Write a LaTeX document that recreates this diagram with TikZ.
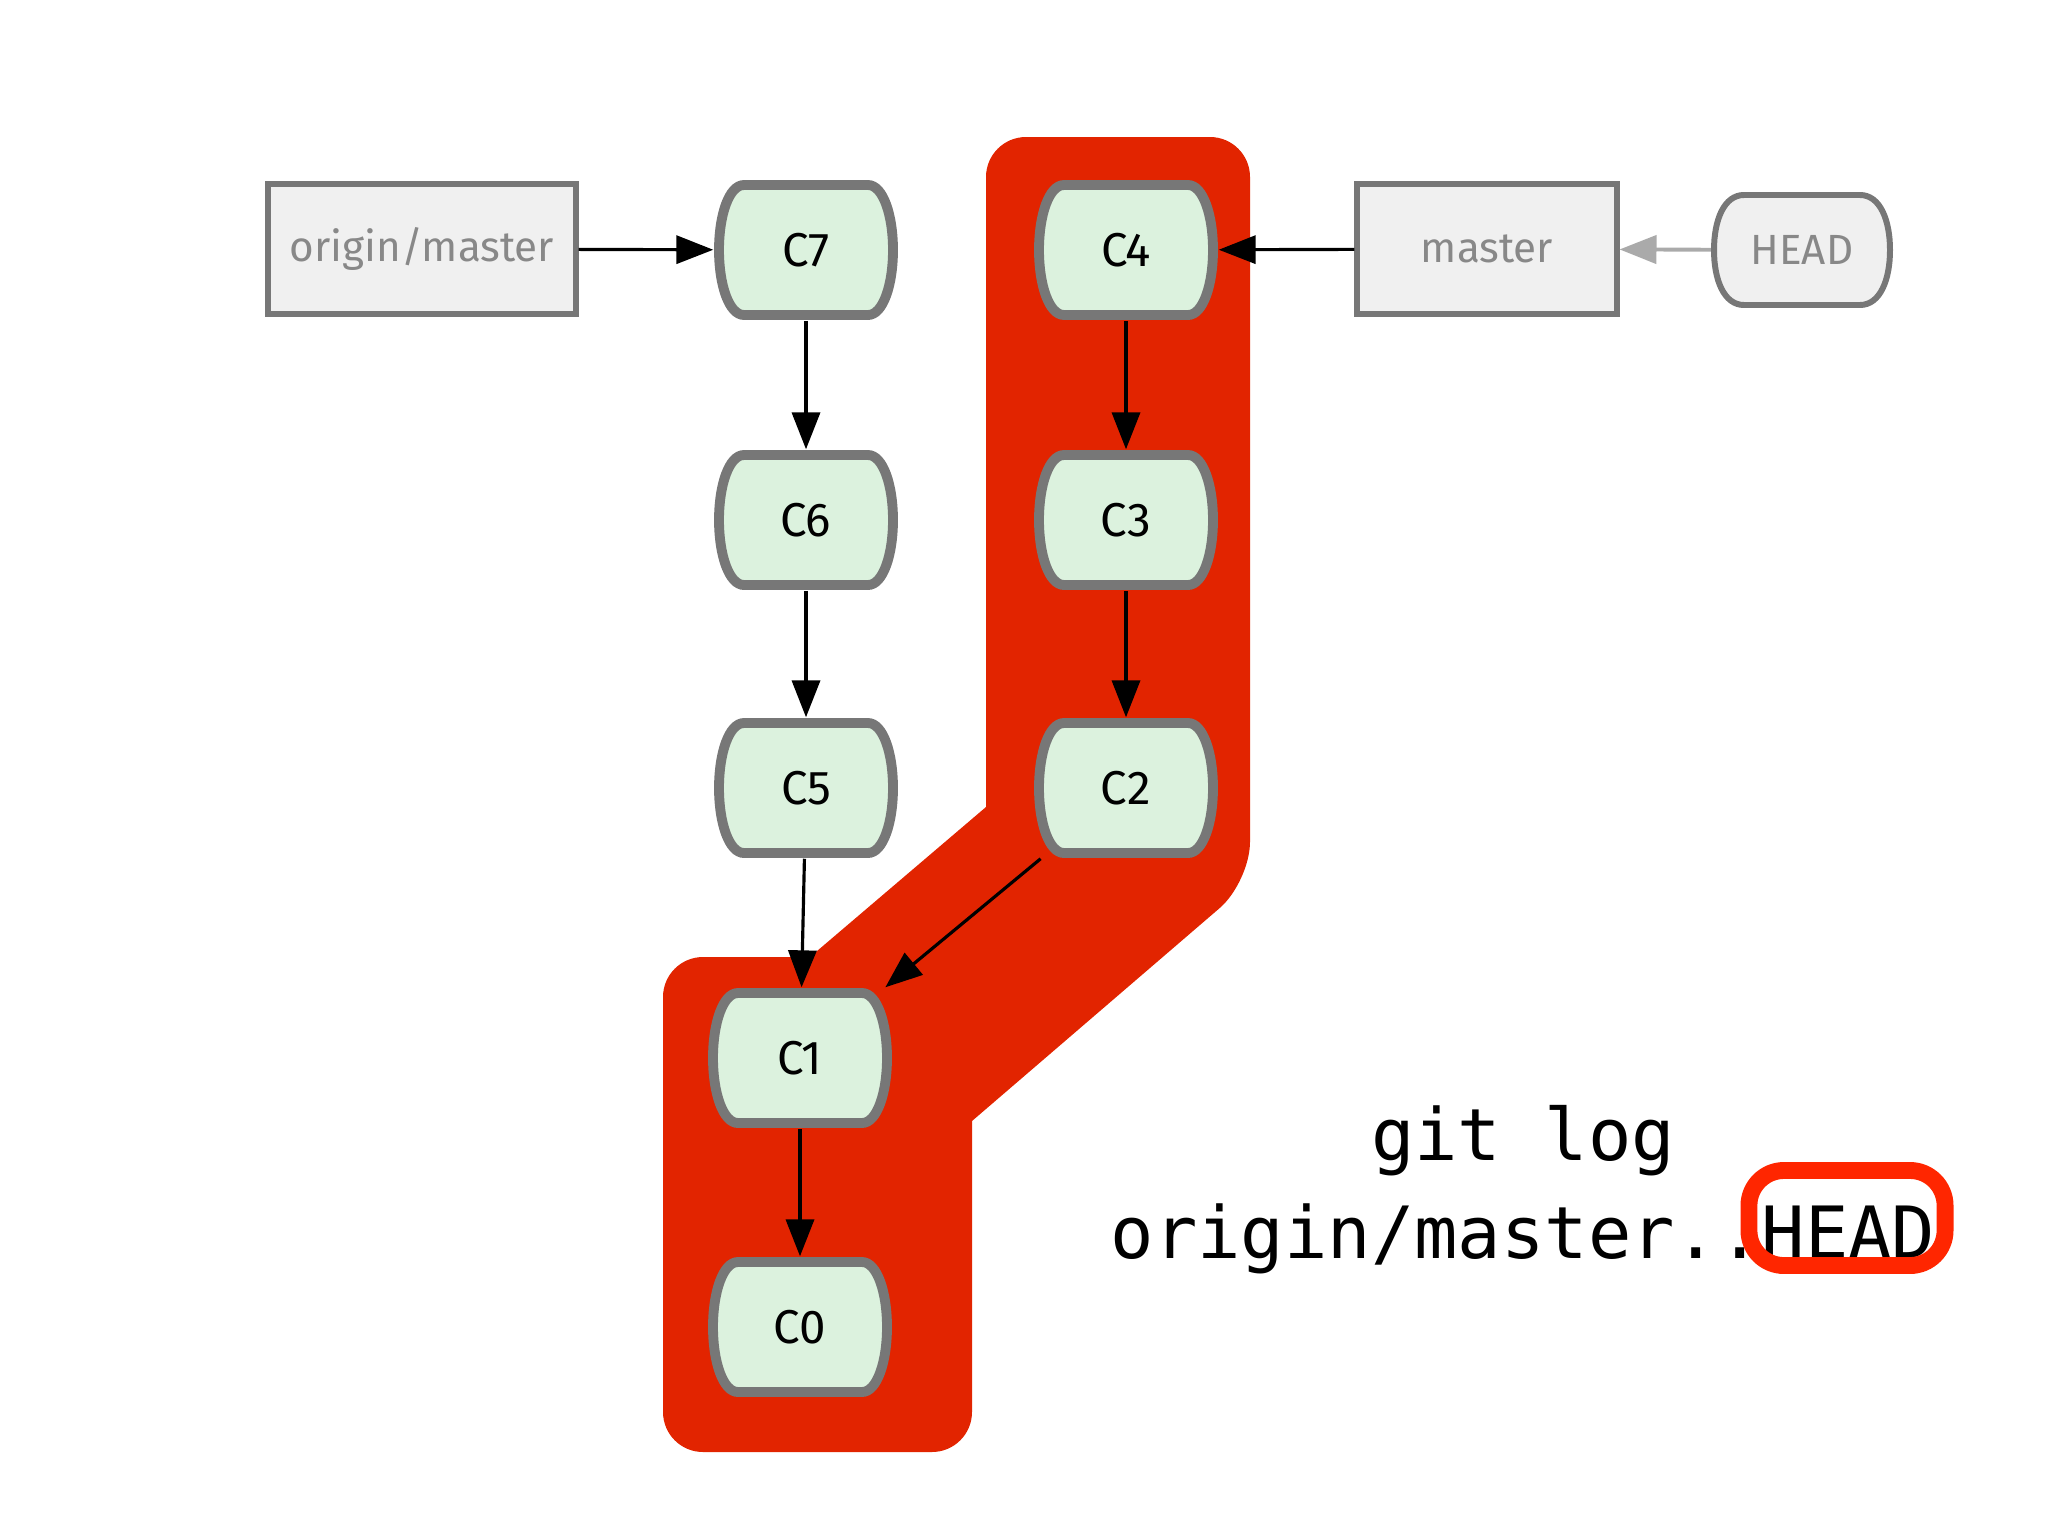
\documentclass[tikz,border=0pt]{standalone}
\usepackage{fontspec}
\setmainfont{Fira Sans}
\newfontfamily\cmdfont{DejaVu Sans Mono}
\usetikzlibrary{arrows.meta}
\definecolor{hlred}{RGB}{226,36,0}
\definecolor{markred}{RGB}{255,38,0}
\definecolor{commitfill}{RGB}{220,242,222}
\definecolor{rimgray}{RGB}{119,119,119}
\definecolor{reffill}{RGB}{240,240,240}
\definecolor{labelgray}{RGB}{136,136,136}
\definecolor{headgray}{RGB}{170,170,170}
\tikzset{
  commit/.style={minimum width=1.84cm, minimum height=1.40cm, inner sep=0pt,
    font=\fontsize{13.5}{15}\selectfont},
  commitline/.style={draw=rimgray, fill=commitfill, line width=2.8pt},
  refbox/.style={draw=rimgray, fill=reffill, line width=1.7pt, inner sep=0pt,
    minimum height=1.30cm, text=labelgray, font=\fontsize{12}{14}\selectfont},
  headline/.style={draw=rimgray, fill=reffill, line width=1.7pt},
  parent/.style={-{Triangle[length=10.5pt,width=8pt]}, line width=0.9pt},
}
\begin{document}
\begin{tikzpicture}[x=0.01cm,y=-0.01cm]
  \useasboundingbox (0,0) rectangle (2048,1536);

  % commits between origin/master and HEAD
  \fill[hlred, rounded corners=0.4cm] (986,137) -- (1250,137) -- (1250,882)
    [sharp corners] -- (972,1121) [rounded corners=0.4cm] -- (972,1452) -- (663,1452)
    -- (663,957) [sharp corners] -- (810,957) -- (986,807) [rounded corners=0.4cm] -- cycle;

  % commits
  \foreach \name/\lbl/\x/\y in {c7/C7/806/250, c6/C6/806/520, c5/C5/806/788,
      c1/C1/800/1058, c0/C0/800/1327, c4/C4/1126/250, c3/C3/1126/520, c2/C2/1126/788}{
    \begin{scope}[shift={(\x,\y)}]
      \draw[commitline] (-62,-65) -- (62,-65) .. controls (77,-65) and (87,-35) .. (87,0)
        .. controls (87,35) and (77,65) .. (62,65) -- (-62,65)
        .. controls (-77,65) and (-87,35) .. (-87,0)
        .. controls (-87,-35) and (-77,-65) .. (-62,-65) -- cycle;
    \end{scope}
    \node[commit] (\name) at (\x,\y) {\lbl};
  }

  % branches
  \node[refbox, minimum width=3.07cm] (origin) at (422,249) {origin/master};
  \node[refbox, minimum width=2.59cm] (master) at (1487,249) {master};
  \begin{scope}[shift={(1802,250)}]
    \draw[headline] (-58,-55) -- (58,-55) .. controls (78,-55) and (88,-30) .. (88,0)
      .. controls (88,30) and (78,55) .. (58,55) -- (-58,55)
      .. controls (-78,55) and (-88,30) .. (-88,0)
      .. controls (-88,-30) and (-78,-55) .. (-58,-55) -- cycle;
  \end{scope}
  \node[inner sep=0pt, minimum width=1.81cm, minimum height=1.15cm, text=labelgray,
    font=\fontsize{12}{14}\selectfont] (head) at (1802,250) {HEAD};

  \draw[parent] (origin) -- (c7);
  \draw[parent] (c7) -- (c6);
  \draw[parent] (c6) -- (c5);
  \draw[parent] (c5) -- (c1);
  \draw[parent] (c4) -- (c3);
  \draw[parent] (c3) -- (c2);
  \draw[parent] (c2) -- (c1);
  \draw[parent] (c1) -- (c0);
  \draw[parent] (master) -- (c4);
  \draw[parent, draw=headgray, line width=1.1pt] (head) -- (master);

  % command
  \node[anchor=base, font=\cmdfont\fontsize{20.5}{28}\selectfont] (gitlog) at (1523,1160) {git log};
  \node[anchor=base, font=\cmdfont\fontsize{20.5}{28}\selectfont] (range) at (1523,1258) {origin/master..HEAD};
  \node[draw=markred, line width=4.8pt, rounded corners=0.35cm, minimum width=1.96cm,
    minimum height=0.95cm] (headmark) at (1847,1218) {};
\end{tikzpicture}
\end{document}
